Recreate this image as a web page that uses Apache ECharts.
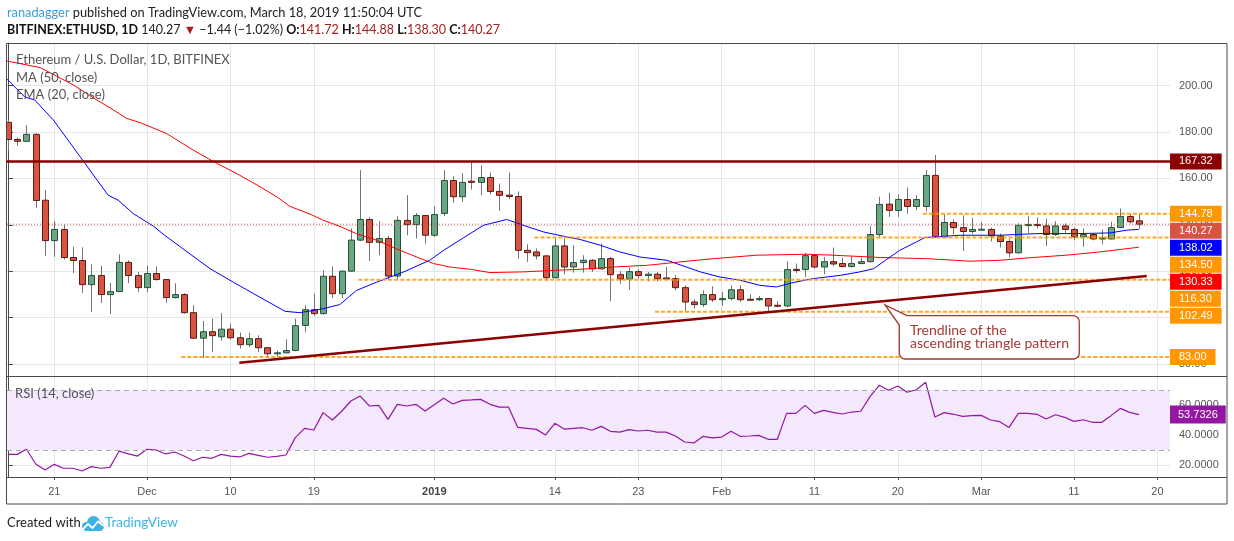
<!DOCTYPE html>
<html><head><meta charset="utf-8">
<script src="https://cdn.jsdelivr.net/npm/echarts@6.0.0/dist/echarts.min.js"></script>
<style>html,body{margin:0;padding:0;background:#fff}#c{width:1234px;height:541px}</style>
</head><body><div id="c"></div>
<script>
// ---------- data ----------
const startDate = '2018-11-16';
const open = [184.2,176.8,176.0,179.0,150.6,133.2,138.0,125.9,124.6,114.2,
118.1,109.9,111.2,123.8,118.1,112.9,119.0,116.4,108.6,109.9,
102.1,91.1,93.9,91.7,95.0,91.3,88.3,90.9,87.0,84.4,
84.8,85.8,96.6,103.4,101.7,117.8,110.3,120.0,133.4,142.3,
132.4,134.1,117.9,141.9,140.1,144.0,135.5,144.9,159.1,152.1,
158.8,158.3,160.4,154.4,152.8,152.2,129.0,128.3,126.6,117.2,
130.9,121.8,123.7,124.7,121.0,125.4,118.5,116.6,119.8,118.1,
118.7,117.1,116.8,112.9,106.7,105.6,109.9,107.7,108.2,112.0,
107.9,107.7,108.2,105.3,105.0,120.8,120.7,126.7,121.8,124.1,
123.3,122.0,123.3,124.1,135.8,148.9,146.2,150.9,147.9,147.9,
161.3,134.8,141.0,138.8,137.1,137.8,138.0,135.1,132.8,127.9,
139.7,140.1,139.5,135.8,139.5,138.0,134.8,135.8,133.9,133.9,
138.8,143.6,141.72];
const close = [176.8,176.0,179.0,150.5,133.2,138.0,125.9,124.6,114.2,118.1,
109.9,111.2,123.8,118.1,112.9,119.0,116.4,108.6,109.9,102.1,
91.1,93.9,92.2,95.0,91.3,88.3,90.9,87.0,84.4,84.8,
85.8,96.5,103.4,101.7,117.8,110.3,120.0,133.4,142.3,132.4,
134.1,117.9,141.9,140.1,144.0,135.5,144.4,159.1,152.1,158.3,
158.3,160.4,154.4,152.7,152.2,129.0,128.0,126.6,117.2,130.9,
121.8,123.7,124.7,121.0,125.4,118.5,116.6,119.8,118.1,118.7,
116.8,116.6,112.9,106.7,105.6,109.9,107.7,108.2,112.0,107.7,
107.6,108.2,105.0,105.0,120.7,120.3,126.7,121.8,124.1,123.1,
122.0,123.3,124.1,135.8,148.8,146.2,150.9,147.9,150.9,161.3,
134.8,141.0,138.8,137.1,138.0,138.1,135.2,132.8,127.9,139.8,
140.1,139.7,135.8,139.5,138.0,134.8,135.8,133.9,134.3,138.8,
143.6,141.3,140.27];
const high = [185.2,177.7,183.0,179.5,154.9,141.6,140.1,130.5,130.3,122.9,
122.3,114.9,127.3,124.7,119.7,122.5,122.1,116.6,114.8,110.5,
105.3,98.5,99.5,101.9,97.4,93.5,93.5,92.3,87.2,85.8,
90.6,99.5,105.3,110.3,120.4,122.1,120.4,138.4,163.6,143.2,
141.6,135.2,143.7,152.8,145.1,144.2,148.0,163.6,161.0,162.2,
166.9,165.7,162.6,157.8,162.6,154.4,131.6,129.8,127.0,134.1,
134.1,131.2,126.9,125.2,131.9,126.1,120.1,121.6,120.8,119.7,
119.7,121.8,118.3,113.9,107.9,111.7,113.5,111.0,113.9,113.9,
110.0,109.3,108.4,107.0,124.3,123.3,127.9,127.2,126.1,130.2,
125.8,126.7,125.8,139.4,152.1,153.8,153.1,156.1,152.8,163.6,
170.1,144.6,142.4,144.1,143.0,141.1,138.8,136.2,133.9,140.6,
143.7,143.2,142.7,141.6,140.6,138.8,138.4,136.2,138.0,141.3,
147.0,144.6,144.88];
const low = [171.9,174.1,175.8,147.3,126.6,126.2,125.0,119.2,110.6,102.4,
106.3,101.5,111.0,114.9,111.0,111.0,115.9,106.4,108.2,101.7,
90.9,82.5,85.1,90.0,90.4,86.6,87.3,85.1,83.0,83.2,
84.5,85.5,93.7,100.7,101.3,108.4,108.4,119.8,133.0,124.4,
126.9,116.1,116.5,135.5,134.1,131.9,134.8,143.8,149.5,149.9,
155.2,152.8,153.1,146.0,151.1,125.4,124.0,125.1,115.8,116.8,
118.7,119.4,119.4,119.7,120.8,107.1,114.6,112.0,116.8,115.6,
115.6,116.4,111.7,102.8,103.8,104.5,106.7,105.0,107.4,106.7,
107.2,107.1,102.0,104.5,104.5,119.2,117.5,121.1,118.7,122.1,
121.6,121.6,123.0,123.8,134.4,143.4,143.4,144.7,146.3,145.9,
134.5,134.6,135.9,128.7,136.2,137.7,132.8,130.2,125.9,127.6,
136.5,138.4,130.8,135.2,136.5,133.3,130.5,133.3,131.6,133.7,
138.6,140.6,138.30];
// EMA(20) and MA(50) read at sample days: [day index, value]
const emaPoints = [[-0.2,203.2],[1.8,195.2],[2.9,193.8],[4.9,185.2],[7.8,169.3],[10.8,152.8],[11.9,150.6],[13.5,144.9],[15.7,139.4],[16.9,135.5],[18.6,130.5],[21.8,121.1],[24.3,115.3],[26.5,110.3],[29.9,102.7],[31.5,102.1],[34.0,103.8],[35.8,105.6],[37.6,111.7],[39.8,115.3],[42.7,119.7],[45.5,124.7],[47.0,129.0],[49.1,134.3],[51.3,139.8],[53.8,142.3],[55.6,139.8],[57.8,136.9],[59.9,135.1],[61.7,133.7],[63.9,131.2],[66.0,128.3],[68.2,126.1],[71.1,124.7],[74.7,119.7],[76.8,117.5],[79.0,116.1],[81.1,113.9],[82.9,113.2],[84.7,115.1],[86.9,116.8],[89.8,118.2],[91.9,119.7],[93.4,121.1],[94.8,125.1],[96.2,129.0],[98.0,132.6],[98.9,134.5],[102.7,135.5],[107.0,135.5],[111.0,136.2],[115.3,136.2],[118.9,136.5],[120.7,137.7],[122,138.02]];
const maPoints = [[-0.2,210.7],[3.5,207.8],[7.1,200.2],[9.6,193.8],[11.4,189.5],[12.8,185.9],[14.3,184.0],[17.1,179.4],[20.0,172.2],[22.2,167.2],[25.0,161.4],[27.2,156.4],[29.0,152.1],[30.4,148.0],[32.6,144.6],[34.0,142.0],[35.5,139.8],[37.6,136.2],[39.8,133.3],[42.3,129.0],[44.1,126.1],[45.9,123.3],[47.7,121.8],[49.9,120.8],[52.0,119.4],[55.6,119.7],[59.2,120.4],[61.7,120.8],[65.3,121.8],[68.9,122.5],[72.5,124.0],[76.1,125.4],[80.8,126.9],[86.2,127.3],[89.0,126.9],[94.1,125.9],[99.1,125.4],[103.8,124.3],[107.0,124.7],[110.6,125.9],[114.2,126.9],[117.8,128.3],[122,130.33]];
const rsi = [27.3,27.3,30.7,20.9,16.9,20.7,18.1,18.1,16.3,19.2,
18.1,18.7,29.5,27.6,26.2,30.7,30.2,27.6,28.9,26.2,
23.1,25.4,24.7,27.3,26.2,25.6,28.0,26.7,25.4,26.0,
26.9,38.4,44.6,43.5,55.0,50.1,55.9,62.7,66.0,59.4,
59.8,50.5,60.5,59.4,60.5,56.1,60.3,64.5,60.7,63.1,
63.4,63.8,60.5,58.7,58.7,45.2,44.6,43.9,40.2,47.9,
44.1,44.6,45.0,43.3,45.9,42.6,42.1,43.7,42.8,43.3,
42.1,42.1,39.5,35.5,34.9,39.3,38.2,38.8,42.6,39.3,
39.5,39.9,37.3,37.3,54.5,54.5,59.8,54.5,56.5,55.2,
54.1,55.4,55.9,65.6,73.1,69.8,72.7,68.5,70.2,75.1,
52.1,55.0,53.9,52.5,53.0,53.2,50.1,49.0,45.2,54.5,
54.5,53.9,50.8,53.6,51.9,49.2,50.3,48.6,48.6,53.0,
57.8,55.2,53.7326];
const tickDates = ['2018-11-21','2018-12-01','2018-12-10','2018-12-19','2019-01-01','2019-01-14','2019-01-23','2019-02-01','2019-02-11','2019-02-20','2019-03-01','2019-03-11','2019-03-20'];
const tickLabels = ['21','Dec','10','19','2019','14','23','Feb','11','20','Mar','11','20'];
const priceTicks = [80,100,120,140,160,180,200];
const rsiTicks = [20,40,60];
const resistance = 167.32;
const levels = [144.78, 134.50, 116.30, 102.49, 83.00];
const levelStartDays = [98.7, 56.8, 37.8, 69.8, 18.7];
const trendPoints = [[24.96, 80.5], [122.85, 117.9]];
const rsiBand = [30, 70];

// ---------- chart ----------
const DAY = 86400000;
const dayOf = s => Math.round((Date.parse(s + 'T00:00:00Z') - Date.parse(startDate + 'T00:00:00Z')) / DAY);
const xMin = -0.1, xMax = 125.36;
const tickDays = tickDates.map(dayOf);
const tickText = {};
tickDays.forEach((d, i) => { tickText[d] = tickLabels[i]; });
const candleData = open.map((o, i) => [i, o, close[i], low[i], high[i]]);
const lastClose = close[close.length - 1];
const lastEma = emaPoints[emaPoints.length - 1][1];
const lastMa = maPoints[maPoints.length - 1][1];
const lastRsi = rsi[rsi.length - 1];

const AX = '"Liberation Sans", Arial, sans-serif';
const TX = 'Lato, "Open Sans", sans-serif';
const gridC = '#e6e6e6';
const frameC = '#4a4a4a';

const chart = echarts.init(document.getElementById('c'), null, {renderer: 'canvas'});

function xAxisDef(idx, showLabels) {
  return {
    type: 'value', gridIndex: idx, min: xMin, max: xMax,
    axisLine: {show: false},
    axisTick: {show: showLabels, customValues: tickDays, length: 3, lineStyle: {color: frameC}},
    axisLabel: {show: showLabels, customValues: tickDays, margin: 9, color: '#555', fontSize: 11, fontFamily: AX,
      formatter: v => tickText[v] === '2019' ? '{b|2019}' : (tickText[v] || ''),
      rich: {b: {fontWeight: 'bold', color: '#444', fontSize: 11, fontFamily: AX}}},
    splitLine: {show: true, lineStyle: {color: gridC, width: 1}}
  };
}

const series = [];
series.push({
  type: 'custom', xAxisIndex: 0, yAxisIndex: 0, clip: true, z: 3,
  data: candleData,
  encode: {x: 0, y: [1, 2, 3, 4]},
  renderItem: function (params, api) {
    const x = api.value(0), o = api.value(1), c = api.value(2), l = api.value(3), h = api.value(4);
    const po = api.coord([x, o]), pc = api.coord([x, c]), pl = api.coord([x, l]), ph = api.coord([x, h]);
    const up = c >= o;
    const cx = Math.round(po[0]) + 0.5;
    const top = Math.min(po[1], pc[1]), bot = Math.max(po[1], pc[1]);
    const hgt = Math.max(bot - top, 1);
    return {type: 'group', children: [
      {type: 'line', shape: {x1: cx, y1: ph[1], x2: cx, y2: pl[1]}, style: {stroke: '#737375', lineWidth: 1}},
      {type: 'rect', shape: {x: cx - 3, y: top, width: 6, height: hgt},
        style: {fill: up ? '#6ba583' : '#d75442', stroke: up ? '#225437' : '#5b1a13', lineWidth: 1}}
    ]};
  }
});
series.push({type: 'line', xAxisIndex: 0, yAxisIndex: 0, data: maPoints, symbol: 'none', silent: true, z: 4,
  lineStyle: {color: '#ff0000', width: 1}});
series.push({type: 'line', xAxisIndex: 0, yAxisIndex: 0, data: emaPoints, symbol: 'none', silent: true, z: 4,
  lineStyle: {color: '#0000ff', width: 1}});
series.push({type: 'line', xAxisIndex: 0, yAxisIndex: 0, data: [[xMin, lastClose], [xMax, lastClose]], symbol: 'none', silent: true, z: 4,
  lineStyle: {color: '#d75442', width: 1, type: [1, 2]}});
series.push({type: 'line', xAxisIndex: 0, yAxisIndex: 0, data: [[xMin, resistance], [xMax, resistance]], symbol: 'none', silent: true, z: 5,
  lineStyle: {color: '#8b0000', width: 2.5}});
levels.forEach((v, k) => {
  series.push({type: 'line', xAxisIndex: 0, yAxisIndex: 0, data: [[levelStartDays[k], v], [xMax, v]], symbol: 'none', silent: true, z: 5,
    lineStyle: {color: 'rgba(255,152,0,0.85)', width: 2, type: [4, 2]}});
});
series.push({type: 'line', xAxisIndex: 0, yAxisIndex: 0, data: trendPoints, symbol: 'none', silent: true, z: 5,
  lineStyle: {color: '#8b0000', width: 2.5}});
series.push({type: 'line', xAxisIndex: 1, yAxisIndex: 1, data: rsi.map((v, i) => [i, v]), symbol: 'none', silent: true, z: 4,
  lineStyle: {color: '#9417a3', width: 1.2},
  markArea: {silent: true, itemStyle: {color: '#f4e8fd'}, data: [[{yAxis: rsiBand[0]}, {yAxis: rsiBand[1]}]]},
  markLine: {silent: true, symbol: 'none', label: {show: false},
    lineStyle: {color: '#a9a9a9', type: [5, 4], width: 1},
    data: [{yAxis: rsiBand[0]}, {yAxis: rsiBand[1]}]}
});

const option = {
  animation: false,
  backgroundColor: '#ffffff',
  grid: [
    {left: 7, right: 64, top: 43, height: 333},
    {left: 7, right: 64, top: 376, height: 101}
  ],
  xAxis: [xAxisDef(0, false), xAxisDef(1, true)],
  yAxis: [
    {type: 'value', gridIndex: 0, position: 'right', min: 74.8, max: 218.4,
      axisLine: {show: true, lineStyle: {color: frameC}},
      axisTick: {show: true, customValues: priceTicks, length: 5, lineStyle: {color: frameC}},
      axisLabel: {customValues: priceTicks, formatter: v => v.toFixed(2), color: '#555', fontSize: 11, fontFamily: AX, margin: 9},
      splitLine: {show: true, lineStyle: {color: gridC}}},
    {type: 'value', gridIndex: 1, position: 'right', min: 12.3, max: 79.3,
      axisLine: {show: true, lineStyle: {color: frameC}},
      axisTick: {show: true, customValues: rsiTicks, length: 5, lineStyle: {color: frameC}},
      axisLabel: {customValues: rsiTicks, formatter: v => v.toFixed(4), color: '#555', fontSize: 11, fontFamily: AX, margin: 9},
      splitLine: {show: true, lineStyle: {color: gridC}}}
  ],
  series: series
};
chart.setOption(option);

// ---------- overlay texts, frame and price labels ----------
const g = [];
g.push({type: 'rect', z: 50, silent: true, shape: {x: 6.5, y: 43.5, width: 1220.5, height: 460.5}, style: {fill: 'none', stroke: frameC, lineWidth: 1}});
g.push({type: 'line', z: 50, silent: true, shape: {x1: 6.5, y1: 376.5, x2: 1227, y2: 376.5}, style: {stroke: frameC, lineWidth: 1}});
g.push({type: 'line', z: 50, silent: true, shape: {x1: 6.5, y1: 477.5, x2: 1227, y2: 477.5}, style: {stroke: frameC, lineWidth: 1}});

const HF = 12.8;
g.push({type: 'text', z: 60, x: 7, y: 13, style: {
  text: '{u|ranadagger}{n| published on TradingView.com, March 18, 2019 11:50:04 UTC}',
  verticalAlign: 'middle', fontSize: HF, fontFamily: TX,
  rich: {u: {fill: '#3a9fdc', fontSize: HF, fontFamily: TX}, n: {fill: '#222', fontSize: HF, fontFamily: TX}}}});
g.push({type: 'text', z: 60, x: 7, y: 30, style: {
  text: '{b|BITFINEX:ETHUSD, 1D}{n| ' + lastClose.toFixed(2) + ' }{r|▼}{n| −1.44 (−1.02%) }{b|O:}{r|' + open[open.length-1].toFixed(2) + '}{n| }{b|H:}{r|' + high[high.length-1].toFixed(2) + '}{n| }{b|L:}{r|' + low[low.length-1].toFixed(2) + '}{n| }{b|C:}{r|' + lastClose.toFixed(2) + '}',
  verticalAlign: 'middle', fontSize: 12.5, fontFamily: TX,
  rich: {b: {fill: '#111', fontWeight: 'bold', fontSize: 12.5, fontFamily: TX},
         n: {fill: '#222', fontSize: 12.5, fontFamily: TX},
         r: {fill: '#a51d1d', fontSize: 12.5, fontFamily: TX}}}});

const legendLines = ['Ethereum / U.S. Dollar, 1D, BITFINEX', 'MA (50, close)', 'EMA (20, close)'];
legendLines.forEach((t, i) => {
  g.push({type: 'text', z: 60, x: 16, y: 60 + i * 17.5, style: {text: t, fill: '#555', fontSize: 13, fontFamily: TX, verticalAlign: 'middle'}});
});
g.push({type: 'text', z: 60, x: 15, y: 394, style: {text: 'RSI (14, close)', fill: '#555', fontSize: 13, fontFamily: TX, verticalAlign: 'middle'}});

// callout
const CC = '#a33a35';
g.push({type: 'rect', z: 60, silent: true, shape: {x: 899.3, y: 315.7, width: 180, height: 43.3, r: 6},
  style: {fill: '#fff', stroke: CC, lineWidth: 1.3}});
g.push({type: 'polygon', z: 61, silent: true, shape: {points: [[885, 305], [907, 315.7], [899.3, 325]]},
  style: {fill: '#fff', stroke: 'none'}});
g.push({type: 'polyline', z: 62, silent: true, shape: {points: [[907, 315.7], [885, 305], [899.3, 325]]},
  style: {stroke: CC, lineWidth: 1.3, fill: 'none'}});
g.push({type: 'text', z: 63, x: 910, y: 330, style: {text: 'Trendline of the', fill: CC, fontSize: 14, fontFamily: TX, verticalAlign: 'middle'}});
g.push({type: 'text', z: 63, x: 910, y: 343.5, style: {text: 'ascending triangle pattern', fill: CC, fontSize: 14, fontFamily: TX, verticalAlign: 'middle'}});

// footer
g.push({type: 'text', z: 60, x: 7, y: 523, style: {text: 'Created with', fill: '#222', fontSize: 13, fontFamily: TX, verticalAlign: 'middle'}});
g.push({type: 'circle', z: 60, shape: {cx: 86.5, cy: 526.5, r: 4.5}, style: {fill: '#3bb3e4'}});
g.push({type: 'circle', z: 60, shape: {cx: 93.5, cy: 522.5, r: 6.5}, style: {fill: '#3bb3e4'}});
g.push({type: 'circle', z: 60, shape: {cx: 99.5, cy: 526.5, r: 4.5}, style: {fill: '#3bb3e4'}});
g.push({type: 'rect', z: 60, shape: {x: 86.5, y: 526, width: 13, height: 5}, style: {fill: '#3bb3e4'}});
g.push({type: 'polyline', z: 61, shape: {points: [[82, 530], [88, 524], [92.5, 528], [98, 521.5], [104, 526]]}, style: {stroke: '#ffffff', lineWidth: 1.8, fill: 'none'}});
g.push({type: 'text', z: 60, x: 105, y: 523, style: {text: 'TradingView', fill: '#3bb3e4', fontSize: 13.5, fontFamily: TX, verticalAlign: 'middle'}});

// price labels on the right axis (stacked to avoid overlap)
const priceLabels = [
  {v: resistance, bg: '#8b0000'},
  {v: levels[0], bg: '#ff9800'},
  {v: lastClose, bg: '#d75442'},
  {v: lastEma, bg: '#0000ff'},
  {v: levels[1], bg: '#ff9800'},
  {v: lastMa, bg: '#ff0000'},
  {v: levels[2], bg: '#ff9800'},
  {v: levels[3], bg: '#ff9800'},
  {v: levels[4], bg: '#ff9800'}
];
let prevY = -1e9;
priceLabels.sort((a, b) => b.v - a.v).forEach(p => {
  let y = chart.convertToPixel({yAxisIndex: 0}, p.v);
  if (y < prevY + 17) y = prevY + 17;
  prevY = y;
  g.push({type: 'text', z: 200, x: 1170, y: y, style: {
    text: p.v.toFixed(2), fill: '#fff', backgroundColor: p.bg, padding: [3, 9, 2, 9],
    fontSize: 11, fontFamily: AX, verticalAlign: 'middle', align: 'left'}});
});
const ry = chart.convertToPixel({yAxisIndex: 1}, lastRsi);
g.push({type: 'text', z: 200, x: 1170, y: ry, style: {
  text: lastRsi.toFixed(4), fill: '#fff', backgroundColor: '#9417a3', padding: [4, 8, 3, 8],
  fontSize: 11, fontFamily: AX, verticalAlign: 'middle', align: 'left'}});

chart.setOption({graphic: g});
</script>
</body></html>
